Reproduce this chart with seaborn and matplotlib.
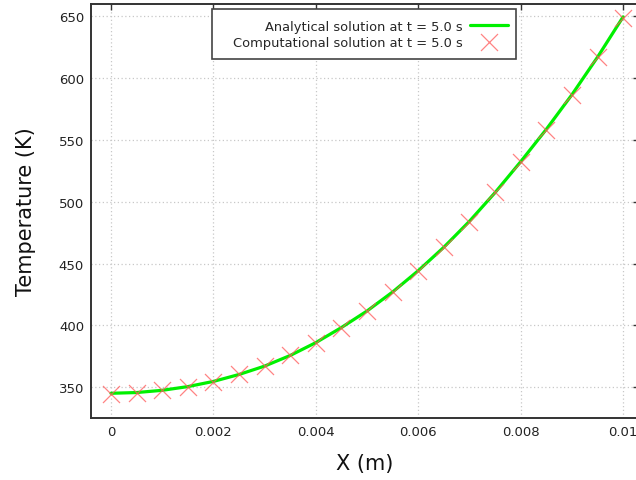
import matplotlib
matplotlib.use("Agg")
import matplotlib.pyplot as plt
from matplotlib.patches import Rectangle
import seaborn as sns
import pandas as pd

# Data
x_pos = [0.0, 0.0005, 0.001, 0.0015, 0.002, 0.0025, 0.003, 0.0035, 0.004, 0.0045,
         0.005, 0.0055, 0.006, 0.0065, 0.007, 0.0075, 0.008, 0.0085, 0.009, 0.0095, 0.01]
t_analytical = [345.0, 345.6, 347.4, 350.4, 354.6, 360.2, 367.0, 375.6, 386.0, 398.2,
                411.6, 427.0, 444.2, 463.2, 484.2, 507.4, 532.4, 558.6, 586.6, 617.0, 649.6]
t_computational = [344.6, 345.5, 347.3, 350.3, 354.4, 360.3, 367.0, 375.7, 386.0, 398.1,
                   411.3, 426.7, 444.0, 463.0, 483.5, 507.7, 532.0, 558.0, 586.0, 617.0, 649.0]
x_ticks = [0.0, 0.002, 0.004, 0.006, 0.008, 0.01]
x_tick_labels = ["0", "0.002", "0.004", "0.006", "0.008", "0.01"]
y_ticks = [350, 400, 450, 500, 550, 600, 650]
label_line = "Analytical solution at t = 5.0 s"
label_pts = "Computational solution at t = 5.0 s"

df_a = pd.DataFrame({"x": x_pos, "T": t_analytical})
df_c = pd.DataFrame({"x": x_pos, "T": t_computational})

sns.set_style("white")
plt.rcParams["font.family"] = ["DejaVu Sans"]

W, H = 636, 481
fig = plt.figure(figsize=(W / 100, H / 100), dpi=100)
left, right, top, bottom = 91, 639, 5, 419
ax = fig.add_axes([left / W, 1 - bottom / H, (right - left) / W, (bottom - top) / H])

sns.lineplot(data=df_a, x="x", y="T", ax=ax, color="#00f000", linewidth=2.3,
             label=label_line, zorder=3)
sns.scatterplot(data=df_c, x="x", y="T", ax=ax, marker="x", color="#ff5a5a",
                s=150, linewidth=0.9, label=label_pts, zorder=4, alpha=0.75)

ax.set_xlim(-0.00039, 0.01031)
ax.set_ylim(325, 660)
ax.set_xticks(x_ticks)
ax.set_xticklabels(x_tick_labels)
ax.set_yticks(y_ticks)

ax.grid(True, linestyle=(0, (1, 2)), color="#c8c8c8", linewidth=0.9)
ax.set_axisbelow(True)
for s in ax.spines.values():
    s.set_color("#333333")
    s.set_linewidth(1.4)
ax.tick_params(direction="in", top=True, right=True, length=4, width=1.0,
               color="#333333", labelsize=9.5, labelcolor="#222222", pad=5)

ax.set_xlabel("X (m)", fontsize=15, labelpad=11, color="#111111")
ax.set_ylabel("Temperature (K)", fontsize=15, labelpad=16, color="#111111")

# legend box (gnuplot style: wide left padding, text right-aligned, key on the right)
box = Rectangle((212 / W, 1 - 60 / H), 304 / W, 50 / H, transform=fig.transFigure,
                facecolor="white", edgecolor="#444444", linewidth=1.2, zorder=5)
ax.add_artist(box)
box.set_clip_on(False)

leg = ax.legend(loc="upper right", bbox_to_anchor=(508 / W, 1 - 21 / H),
                bbox_transform=fig.transFigure, borderaxespad=0, markerfirst=False,
                fontsize=9.4, frameon=False, handlelength=2.9,
                handletextpad=0.55, labelspacing=0.22, borderpad=0)
leg.set_zorder(6)

fig.savefig("out.png", dpi=100)
